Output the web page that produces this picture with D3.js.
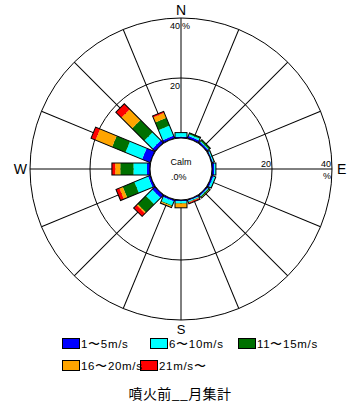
<!DOCTYPE html>
<html><head><meta charset="utf-8">
<script src="https://cdn.jsdelivr.net/npm/d3@7"></script>
<style>body{margin:0;background:#fff} svg{display:block}</style>
</head><body><svg id="c" width="356" height="404"></svg>
<script>
const directions = ["N","NNE","NE","ENE","E","ESE","SE","SSE","S","SSW","SW","WSW","W","WNW","NW","NNW"];
const speedClasses = ["1〜5m/s","6〜10m/s","11〜15m/s","16〜20m/s","21m/s〜"];
const speed1_5   = [0.4,0.8,0.6,0.4,0.7,0.6,0.5,0.4,0.4,0.6,1.3,0.8,1.0,2.9,1.2,0.9];
const speed6_10  = [1.4,0.6,0.3,0.3,0.6,0.7,0.3,0.3,0.6,1.4,3.0,4.9,4.5,6.0,3.8,3.6];
const speed11_15 = [0.0,0.5,0.6,0.2,0.0,0.1,0.4,0.2,0.2,0.3,3.9,4.2,4.4,4.8,5.8,2.8];
const speed16_20 = [0.0,0.0,0.0,0.0,0.0,0.0,0.1,0.1,1.4,0.4,0.4,1.2,1.7,6.0,5.0,1.8];
const speed21    = [0.0,0.0,0.0,0.0,0.0,0.0,0.1,0.4,0.0,0.1,1.4,1.2,1.1,1.6,2.6,0.5];
const ringTicks = [20, 40];
const calmText = ".0%";
const title = "噴火前__月集計";

const colors = ["#0000ff","#00ffff","#007000","#ffa500","#ff0000"];
const series = [speed1_5, speed6_10, speed11_15, speed16_20, speed21];
const table = directions.map((d,i)=>{const o={dir:d}; speedClasses.forEach((k,j)=>o[k]=series[j][i]); return o;});

const svg = d3.select("#c");
const cx = 181, cy = 169;
const r = d3.scaleLinear().domain([0,40]).range([31,151]);
const ang = d3.scaleLinear().domain([0,directions.length]).range([0,360]);
const latin = "'Liberation Sans', Arial, sans-serif";

const grid = svg.append("g").attr("transform",`translate(${cx},${cy})`);
grid.selectAll("circle.ring").data(ringTicks).join("circle").attr("class","ring")
  .attr("r", d=>r(d)).attr("fill","none").attr("stroke","#000").attr("stroke-width",1);
grid.selectAll("line.spoke").data(directions).join("line").attr("class","spoke")
  .attr("transform",(d,i)=>`rotate(${ang(i)})`)
  .attr("x1",0).attr("y1",-r(0)).attr("x2",0).attr("y2",-r(40))
  .attr("stroke","#000").attr("stroke-width",1);

const stacked = d3.stack().keys(speedClasses)(table);
const bars = svg.append("g");
directions.forEach((d,i)=>{
  const g = bars.append("g").attr("transform",`translate(${cx},${cy}) rotate(${ang(i)})`);
  stacked.forEach((s,j)=>{
    const seg = s[i];
    if (seg[1]-seg[0] <= 0) return;
    g.append("rect").attr("x",-6).attr("width",12)
      .attr("y",-r(seg[1])).attr("height",r(seg[1])-r(seg[0]))
      .attr("fill",colors[j]);
  });
  const total = stacked[stacked.length-1][i][1];
  g.append("rect").attr("x",-6).attr("width",12)
    .attr("y",-r(total)).attr("height",r(total)-r(0))
    .attr("fill","none").attr("stroke","#000").attr("stroke-width",1);
});

svg.append("circle").attr("cx",cx).attr("cy",cy).attr("r",r(0))
  .attr("fill","#fff").attr("stroke","#000").attr("stroke-width",1);
svg.append("text").attr("x",cx).attr("y",165).attr("text-anchor","middle")
  .attr("font-family",latin).attr("font-size",9).text("Calm");
svg.append("text").attr("x",171).attr("y",180)
  .attr("font-family",latin).attr("font-size",9).text(calmText);

// ring labels
const lab = svg.append("g").attr("font-family",latin).attr("font-size",9);
ringTicks.forEach(t=>{
  lab.append("text").attr("x",cx-1).attr("y",cy-r(t)+11).attr("text-anchor","end").text(t);
  lab.append("text").attr("x",cx+r(t)-1).attr("y",cy-2).attr("text-anchor","end").text(t);
});
lab.append("text").attr("x",cx+1).attr("y",cy-r(40)+11).text("%");
lab.append("text").attr("x",cx+r(40)-9).attr("y",cy+10).text("%");

// compass labels
const comp = svg.append("g").attr("font-family",latin).attr("font-size",14);
comp.append("text").attr("x",cx).attr("y",cy-r(40)-3).attr("text-anchor","middle").text("N");
comp.append("text").attr("x",cx+r(40)+5).attr("y",cy+5).text("E");
comp.append("text").attr("x",cx).attr("y",cy+r(40)+14).attr("text-anchor","middle")
  .attr("font-size",13).text("S");
comp.append("text").attr("x",cx-r(40)-3).attr("y",cy+5).attr("text-anchor","end").text("W");

// legend
const legendPos = [[62,338],[150,338],[238,338],[62,360],[140,360]];
const legR = svg.append("g"), legT = svg.append("g");
speedClasses.forEach((k,j)=>{
  const [x,y] = legendPos[j];
  legR.append("rect").attr("x",x+0.5).attr("y",y+0.5).attr("width",17).attr("height",10)
    .attr("fill",colors[j]).attr("stroke","#000");
  legT.append("text").attr("x",x+19).attr("y",y+10)
    .attr("font-family",latin).attr("font-size",11.5).attr("letter-spacing",0.7).text(k);
});
svg.append("text").attr("x",180).attr("y",399).attr("text-anchor","middle")
  .attr("font-family","'Noto Sans CJK JP', sans-serif").attr("font-size",14)
  .attr("letter-spacing",0.4).text(title);
</script></body></html>
